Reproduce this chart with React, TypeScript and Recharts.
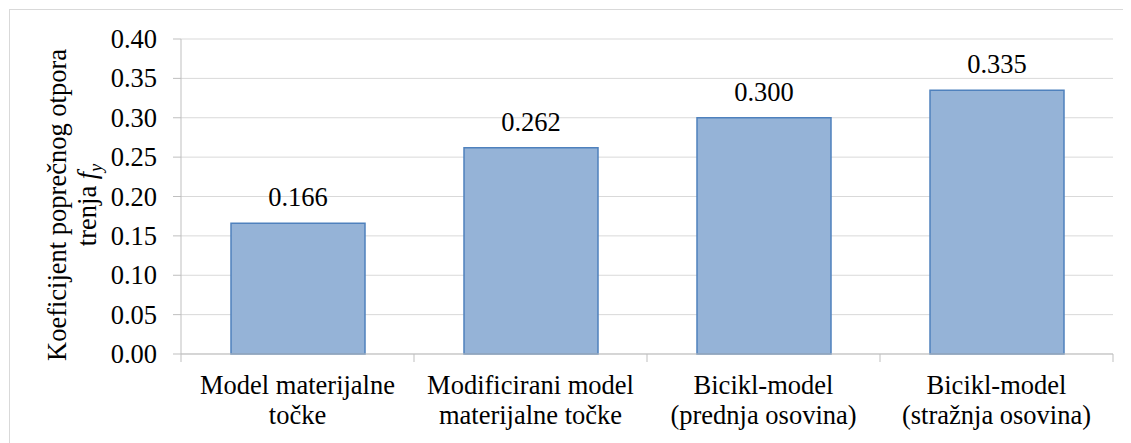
import { Bar, BarChart, CartesianGrid, LabelList, XAxis, YAxis } from 'recharts';

const categories = [
  'Model materijalne\ntočke',
  'Modificirani model\nmaterijalne točke',
  'Bicikl-model\n(prednja osovina)',
  'Bicikl-model\n(stražnja osovina)',
];
const values = [0.166, 0.262, 0.3, 0.335];
const yTicks = [0, 0.05, 0.1, 0.15, 0.2, 0.25, 0.3, 0.35, 0.4];

const data = categories.map((name, i) => ({ name, value: values[i] }));

const FONT = '"Liberation Serif", "Times New Roman", serif';
const AXIS = '#BFBFBF';
const textStyle = { fontFamily: FONT, fontSize: 26.5, fill: '#000' };

const CategoryTick = (props: any) => {
  const { x, y, payload, index, visibleTicksCount, width } = props;
  const count = visibleTicksCount || categories.length;
  // half of one category band, so tick marks sit between the bars
  const half = width ? width / count / 2 : 116.5;
  const lines = String(payload.value).split('\n');
  return (
    <g>
      <line x1={x - half} x2={x - half} y1={y} y2={y + 8} stroke={AXIS} />
      {index === count - 1 && <line x1={x + half} x2={x + half} y1={y} y2={y + 8} stroke={AXIS} />}
      <text x={x} y={y} textAnchor="middle" style={textStyle}>
        {lines.map((l, i) => (
          <tspan key={i} x={x} dy={i === 0 ? 40 : 30}>{l}</tspan>
        ))}
      </text>
    </g>
  );
};

const ValueTick = (props: any) => {
  const { x, y, payload } = props;
  return (
    <text x={x} y={y} dy={9} textAnchor="end" style={textStyle}>
      {Number(payload.value).toFixed(2)}
    </text>
  );
};

const BarValue = (props: any) => {
  const { x, y, width, value } = props;
  return (
    <text x={x + width / 2} y={y - 17} textAnchor="middle" style={textStyle}>
      {Number(value).toFixed(3)}
    </text>
  );
};

const YLabel = () => (
  <g>
    <text x={56} y={195} textAnchor="middle" transform="rotate(-90, 56, 195)" style={textStyle}>
      Koeficijent poprečnog otpora
    </text>
    <text x={86} y={195} textAnchor="middle" transform="rotate(-90, 86, 195)" style={textStyle}>
      trenja <tspan style={{ fontStyle: 'italic' }}>f</tspan>
      <tspan style={{ fontStyle: 'italic', fontSize: 18 }} dy={6}>y</tspan>
    </text>
  </g>
);

export default function App() {
  return (
    <div style={{ position: 'relative', left: 1, top: 1, width: 1123, height: 440, border: '1px solid #D9D9D9', background: '#fff' }}>
      <BarChart width={1123} height={440} data={data} margin={{ top: 29, right: 20, left: 0, bottom: 26 }}>
        <CartesianGrid vertical={false} stroke="#D9D9D9" />
        <XAxis
          dataKey="name"
          height={70}
          stroke={AXIS}
          tickLine={false}
          tickSize={0}
          tickMargin={0}
          interval={0}
          tick={<CategoryTick />}
        />
        <YAxis
          width={171}
          domain={[0, 0.4]}
          ticks={yTicks}
          stroke={AXIS}
          tickSize={8}
          tickMargin={16}
          tick={<ValueTick />}
          label={<YLabel />}
        />
        <Bar dataKey="value" barSize={134} fill="#95B3D7" stroke="#4F81BD" strokeWidth={1.5} isAnimationActive={false}>
          <LabelList dataKey="value" content={<BarValue />} />
        </Bar>
      </BarChart>
    </div>
  );
}
